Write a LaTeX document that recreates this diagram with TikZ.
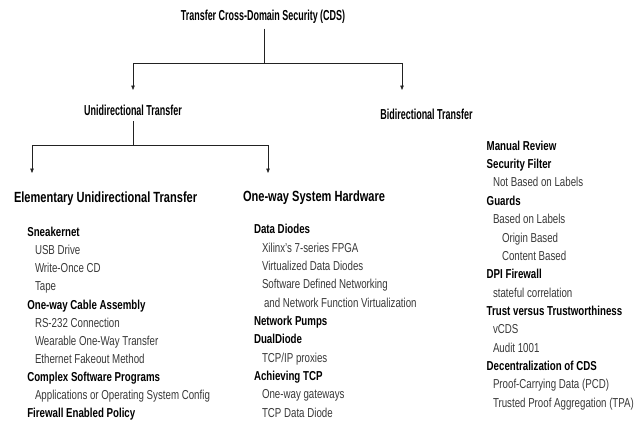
\documentclass[tikz,border=0pt]{standalone}
\usepackage{fontspec}
\setmainfont{Liberation Sans}[FakeStretch=0.75]
\newfontfamily\narrowfont{Liberation Sans}[FakeStretch=0.62]
\usetikzlibrary{arrows.meta}
\definecolor{txtgray}{HTML}{383838}
\definecolor{linegray}{HTML}{222222}
\tikzset{
  x=1bp, y=-1bp,
  every node/.style={inner sep=0pt, outer sep=0pt},
  toptitle/.style={font=\narrowfont\fontsize{14.5}{17}\selectfont\bfseries, anchor=base},
  lvlone/.style={font=\narrowfont\fontsize{14.5}{17}\selectfont\bfseries, anchor=base},
  lvltwo/.style={font=\fontsize{14.8}{17}\selectfont\bfseries, anchor=base west},
  itemb/.style={font=\fontsize{13}{15}\selectfont\bfseries, anchor=base west},
  items/.style={font=\fontsize{13}{15}\selectfont, text=txtgray, anchor=base west},
  conn/.style={draw=linegray, line width=0.7bp},
  arr/.style={conn, -{Triangle[length=4.5bp,width=3.5bp]}}
}
\begin{document}
\begin{tikzpicture}
\useasboundingbox (0,0) rectangle (641,423);
% headings
\node[toptitle] (title) at (263,20.5) {Transfer Cross-Domain Security (CDS)};
\node[lvlone] (uni) at (133,115) {Unidirectional Transfer};
\node[lvlone] (bi) at (426.5,119.5) {Bidirectional Transfer};
\node[lvltwo] (elem) at (14,202.5) {Elementary Unidirectional Transfer};
\node[lvltwo] (hw) at (243,201.5) {One-way System Hardware};
% connectors
\coordinate (j1) at (264,63);
\coordinate (ua) at (133,90);
\coordinate (ba) at (402,90);
\coordinate (j2) at (133,145);
\coordinate (ea) at (32,173);
\coordinate (ha) at (268,173);
\draw[conn] (title.south -| j1) ++(0,5) -- (j1);
\draw[arr] (j1) -| (ua);
\draw[arr] (j1) -| (ba);
\draw[conn] (uni.south -| j2) ++(0,6) -- (j2);
\draw[arr] (j2) -| (ea);
\draw[arr] (j2) -| (ha);
% left list
\node[itemb] (l0) at (27.3,236.5) {Sneakernet};
\node[items] (l1) at (35,254.6) {USB Drive};
\node[items] (l2) at (35,272.8) {Write-Once CD};
\node[items] (l3) at (35,290.9) {Tape};
\node[itemb] (l4) at (27.3,309.0) {One-way Cable Assembly};
\node[items] (l5) at (35,327.2) {RS-232 Connection};
\node[items] (l6) at (35,345.3) {Wearable One-Way Transfer};
\node[items] (l7) at (35,363.4) {Ethernet Fakeout Method};
\node[itemb] (l8) at (27.3,381.5) {Complex Software Programs};
\node[items] (l9) at (35,399.7) {Applications or Operating System Config};
\node[itemb] (l10) at (27.3,417.8) {Firewall Enabled Policy};
% middle list
\node[itemb] (m0) at (254,233.8) {Data Diodes};
\node[items] (m1) at (262,252.1) {Xilinx’s 7-series FPGA};
\node[items] (m2) at (262,270.5) {Virtualized Data Diodes};
\node[items] (m3) at (262,288.8) {Software Defined Networking};
\node[items] (m4) at (264,307.2) {and Network Function Virtualization};
\node[itemb] (m5) at (254,325.5) {Network Pumps};
\node[itemb] (m6) at (254,343.8) {DualDiode};
\node[items] (m7) at (262,362.2) {TCP/IP proxies};
\node[itemb] (m8) at (254,380.5) {Achieving TCP};
\node[items] (m9) at (262,398.9) {One-way gateways};
\node[items] (m10) at (262,417.2) {TCP Data Diode};
% right list
\node[itemb] (r0) at (486.7,150.2) {Manual Review};
\node[itemb] (r1) at (486.7,168.6) {Security Filter};
\node[items] (r2) at (493,186.9) {Not Based on Labels};
\node[itemb] (r3) at (486.7,205.3) {Guards};
\node[items] (r4) at (493,223.6) {Based on Labels};
\node[items] (r5) at (502,242.0) {Origin Based};
\node[items] (r6) at (502,260.4) {Content Based};
\node[itemb] (r7) at (486.7,278.7) {DPI Firewall};
\node[items] (r8) at (493,297.1) {stateful correlation};
\node[itemb] (r9) at (486.7,315.4) {Trust versus Trustworthiness};
\node[items] (r10) at (493,333.8) {vCDS};
\node[items] (r11) at (493,352.2) {Audit 1001};
\node[itemb] (r12) at (486.7,370.5) {Decentralization of CDS};
\node[items] (r13) at (493,388.9) {Proof-Carrying Data (PCD)};
\node[items] (r14) at (493,407.2) {Trusted Proof Aggregation (TPA)};
\end{tikzpicture}
\end{document}
